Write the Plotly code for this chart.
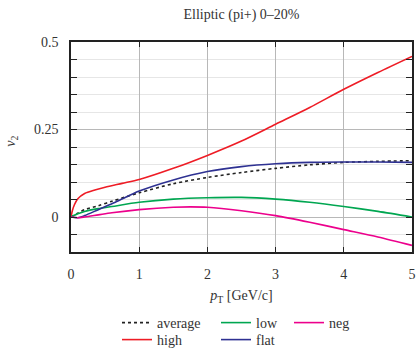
import plotly.graph_objects as go

# ---- data ----
x_high = [0, 0.02, 0.05, 0.1, 0.2, 0.35, 0.5, 0.75, 1.0, 1.5, 2.0, 2.5, 3.0, 3.5, 4.0, 4.5, 5.0]
v_high = [0, 0.018, 0.035, 0.052, 0.067, 0.077, 0.085, 0.096, 0.107, 0.139, 0.176, 0.217, 0.265, 0.313, 0.365, 0.413, 0.459]

x_flat = [0, 0.1, 0.2, 0.4, 0.65, 1.0, 1.5, 2.0, 2.5, 3.0, 3.5, 4.0, 4.5, 5.0]
v_flat = [0, -0.002, 0.004, 0.021, 0.042, 0.074, 0.106, 0.130, 0.144, 0.152, 0.156, 0.157, 0.157, 0.156]

x_avg = [0, 0.1, 0.2, 0.4, 0.6, 1.0, 1.5, 2.0, 2.5, 3.0, 3.5, 4.0, 4.5, 5.0]
v_avg = [0, 0.011, 0.021, 0.032, 0.045, 0.069, 0.095, 0.113, 0.127, 0.139, 0.149, 0.156, 0.159, 0.161]

x_low = [0, 0.1, 0.2, 0.4, 0.6, 1.0, 1.5, 2.0, 2.5, 3.0, 3.5, 4.0, 4.5, 5.0]
v_low = [0, 0.009, 0.016, 0.024, 0.030, 0.042, 0.051, 0.055, 0.056, 0.051, 0.042, 0.030, 0.016, 0.0]

x_neg = [0, 0.1, 0.2, 0.4, 0.6, 1.0, 1.5, 1.75, 2.0, 2.5, 3.0, 3.5, 4.0, 4.5, 5.0]
v_neg = [0, -0.002, 0.0, 0.006, 0.012, 0.021, 0.028, 0.029, 0.028, 0.018, 0.004, -0.015, -0.036, -0.057, -0.081]

FONT = "'Liberation Serif', 'DejaVu Serif', serif"
TXT = "#333333"
FS = 14

fig = go.Figure()

def add(x, y, name, color, legend, dash="solid"):
    fig.add_trace(go.Scatter(
        x=x, y=y, mode="lines", name=name, legend=legend,
        line=dict(color=color, width=1.6, dash=dash, shape="spline", smoothing=0.8),
    ))

add(x_avg, v_avg, "average", "#222222", "legend", dash="3px,3px")
add(x_high, v_high, "high", "#ee1c25", "legend2")
add(x_low, v_low, "low", "#00a651", "legend3")
add(x_flat, v_flat, "flat", "#2e3192", "legend4")
add(x_neg, v_neg, "neg", "#ec008c", "legend5")

def leg(xpx, ypx):
    return dict(orientation="v", yanchor="middle", yref="container", y=1 - ypx / 348,
                xanchor="left", xref="container", x=xpx / 417,
                font=dict(family=FONT, size=FS, color=TXT),
                bgcolor="rgba(0,0,0,0)", tracegroupgap=0, itemwidth=30)

fig.update_layout(
    width=417, height=348,
    margin=dict(l=71, r=5, t=42, b=96, autoexpand=False),
    paper_bgcolor="white", plot_bgcolor="white",
    font=dict(family=FONT, size=FS, color=TXT),
    title=dict(text="Elliptic (pi+) 0–20%", x=0.5, xref="paper", y=1 - 14 / 348,
               yref="container", xanchor="center", yanchor="middle",
               font=dict(family=FONT, size=FS, color=TXT)),
    showlegend=True,
    legend=leg(117, 323),
    legend2=leg(117, 340),
    legend3=leg(216, 323),
    legend4=leg(216, 340),
    legend5=leg(289, 323),
    annotations=[dict(text="<i>v</i><sub>2</sub>", xref="paper", yref="paper",
                      x=-59 / 341, y=0.5 + 0.03, textangle=-90, showarrow=False,
                      xanchor="center", yanchor="middle",
                      font=dict(family=FONT, size=FS, color=TXT))],
)

fig.update_xaxes(
    range=[0, 5], dtick=1, tick0=0,
    showline=True, linecolor="#222222", linewidth=1.5, mirror="allticks",
    ticks="inside", ticklen=5, tickcolor="#222222", tickwidth=1,
    showgrid=True, gridcolor="#b8b8b8", gridwidth=1,
    zeroline=False, ticklabelstandoff=8,
    tickfont=dict(family=FONT, size=FS, color=TXT),
    title=dict(text="<i>p</i><sub>T</sub> [GeV/c]", standoff=10,
               font=dict(family=FONT, size=FS, color=TXT)),
)
fig.update_yaxes(
    range=[-0.1, 0.5], tickvals=[0, 0.25, 0.5], ticktext=["0", "0.25", "0.5"],
    showline=True, linecolor="#222222", linewidth=1.5, mirror="allticks",
    ticks="inside", ticklen=6, tickcolor="#222222", tickwidth=1,
    showgrid=True, gridcolor="#b8b8b8", gridwidth=1,
    zeroline=False, ticklabelstandoff=8,
    minor=dict(dtick=0.05, tick0=0, showgrid=True, gridcolor="#e6e6e6", gridwidth=1,
               ticks="inside", ticklen=6, tickcolor="#222222"),
    tickfont=dict(family=FONT, size=FS, color=TXT),
)

fig.write_html("out.html")
